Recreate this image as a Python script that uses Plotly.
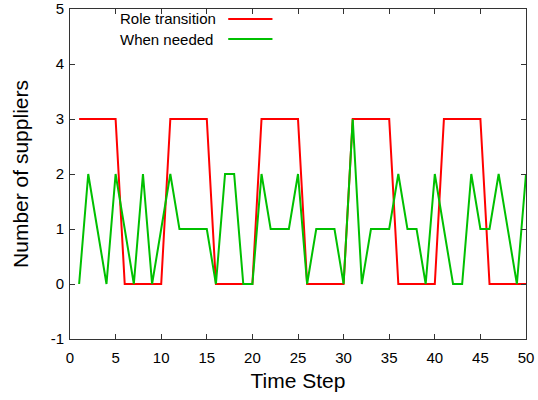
import plotly.graph_objects as go

time_steps = list(range(1, 51))
role_transition = [3, 3, 3, 3, 3, 0, 0, 0, 0, 0,
                   3, 3, 3, 3, 3, 0, 0, 0, 0, 0,
                   3, 3, 3, 3, 3, 0, 0, 0, 0, 0,
                   3, 3, 3, 3, 3, 0, 0, 0, 0, 0,
                   3, 3, 3, 3, 3, 0, 0, 0, 0, 0]
when_needed = [0, 2, 1, 0, 2, 1, 0, 2, 0, 1,
               2, 1, 1, 1, 1, 0, 2, 2, 0, 0,
               2, 1, 1, 1, 2, 0, 1, 1, 1, 0,
               3, 0, 1, 1, 1, 2, 1, 1, 0, 2,
               1, 0, 0, 2, 1, 1, 2, 1, 0, 2]

series_names = ["Role transition", "When needed"]
series_colors = ["#ff0000", "#00c000"]
x_ticks = list(range(0, 51, 5))
y_ticks = list(range(-1, 6))
y_tick_labels = ["-1", "0", "1", "2", "3", "4", "5"]

FONT = "Liberation Sans, Arial, sans-serif"

fig = go.Figure()
for name, vals, col in zip(series_names, [role_transition, when_needed], series_colors):
    fig.add_trace(go.Scatter(x=time_steps, y=vals, mode="lines", name=name,
                             line=dict(color=col, width=2), showlegend=False))

# gnuplot-style key: text then line sample
key_rows = [0.970, 0.909]
for name, col, yy in zip(series_names, series_colors, key_rows):
    fig.add_annotation(x=0.106, y=yy, xref="paper", yref="paper", text=name,
                       showarrow=False, xanchor="left", yanchor="middle",
                       font=dict(family=FONT, size=15, color="black"))
    fig.add_shape(type="line", xref="paper", yref="paper", x0=0.347, x1=0.444,
                  y0=yy, y1=yy, line=dict(color=col, width=2))

axis_common = dict(showline=True, mirror="ticks", linecolor="#333", linewidth=1,
                   ticks="inside", ticklen=5, tickcolor="#333", showgrid=False,
                   zeroline=False, automargin=False,
                   tickfont=dict(family=FONT, size=15, color="black"))

fig.update_xaxes(range=[0, 50], tickvals=x_ticks, ticklabelstandoff=5,
                 title=dict(text="Time Step", font=dict(family=FONT, size=21, color="black"), standoff=8),
                 **axis_common)
fig.update_yaxes(range=[-1, 5], tickvals=y_ticks, ticktext=y_tick_labels, ticklabelstandoff=2,
                 title=dict(text="Number of suppliers", font=dict(family=FONT, size=21, color="black"), standoff=16),
                 **axis_common)

fig.update_layout(width=538, height=400, margin=dict(l=70, r=12, t=9, b=61),
                  plot_bgcolor="white", paper_bgcolor="white")

fig.write_html("out.html")
